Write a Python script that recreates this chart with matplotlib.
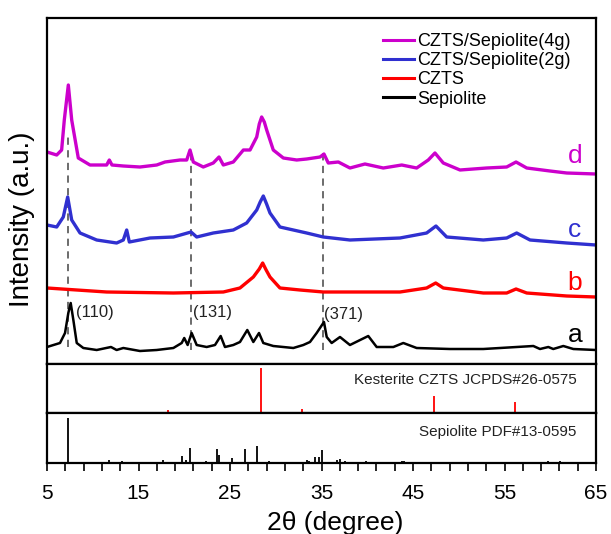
import numpy as np
import matplotlib
matplotlib.use("Agg")
import matplotlib.pyplot as plt

plt.rcParams['font.family'] = ['Liberation Sans', 'DejaVu Sans']

# ---------------- data ----------------
# (a) Sepiolite
a_x = [5.0, 6.42, 6.97, 7.33, 7.59, 7.88, 8.25, 8.97, 10.43, 11.99, 12.61, 13.34, 15.16, 16.99,
       18.81, 19.72, 20.0, 20.37, 20.81, 21.36, 22.45, 23.36, 23.98, 24.45, 25.36, 26.09, 26.89,
       27.55, 28.17, 28.64, 29.73, 31.92, 33.01, 33.74, 34.47, 35.27, 35.57, 36.11, 37.02, 38.11,
       40.11, 41.03, 42.85, 43.94, 45.40, 49.04, 52.68, 54.51, 58.15, 58.88, 59.79, 60.33, 61.43,
       62.52, 65.0]
a_y = [17, 21, 31, 51, 61, 44, 21, 16, 14, 17, 14, 16, 13, 14,
       16, 21, 26, 19, 31, 19, 17, 19, 28, 17, 19, 22, 34,
       22, 31, 21, 18, 16, 19, 22, 31, 42, 27, 21, 27, 19,
       28, 17, 17, 21, 16, 15, 15, 16, 18, 15, 17, 15, 18,
       15, 14]

# (b) CZTS
b_x = [5.0, 11.52, 18.81, 24.27, 26.09, 27.55, 28.2, 28.57, 28.95, 29.37, 30.46, 32.65, 35.2,
       36.29, 43.58, 46.49, 47.48, 48.31, 52.68, 55.24, 56.26, 57.43, 61.80, 65.0]
b_y = [76, 72, 71, 72, 76, 87, 95, 101, 94, 87, 76, 74, 72,
       72, 72, 76, 81, 76, 71, 71, 75, 71, 68, 67]

# (c) CZTS/Sepiolite(2g)
c_x = [5.0, 6.06, 6.78, 7.26, 7.70, 8.61, 10.43, 12.61, 13.34, 13.71, 14.0, 16.26, 18.81, 20.74,
       21.36, 23.17, 25.36, 26.82, 27.92, 28.3, 28.64, 29.0, 29.37, 30.46, 33.38, 35.2, 38.11,
       43.58, 46.49, 47.51, 48.68, 52.68, 55.24, 56.33, 57.79, 61.80, 65.0]
c_y = [139, 137, 147, 167, 144, 131, 124, 121, 124, 134, 122, 126, 127, 132,
       127, 131, 134, 141, 154, 162, 168, 160, 151, 137, 131, 127, 124,
       126, 131, 138, 127, 124, 126, 131, 124, 121, 119]

# (d) CZTS/Sepiolite(4g)
d_x = [5.0, 6.06, 6.6, 6.89, 7.33, 7.70, 8.42, 9.70, 11.52, 11.81, 12.10, 13.34, 15.16, 16.99,
       17.90, 19.54, 20.27, 20.63, 20.99, 22.08, 23.17, 23.80, 24.27, 25.36, 26.46, 27.19, 27.92,
       28.2, 28.46, 28.75, 29.01, 29.73, 30.83, 32.29, 33.38, 34.84, 35.27, 35.74, 36.84, 38.11,
       39.75, 41.75, 43.77, 45.40, 46.67, 47.40, 48.31, 50.14, 53.05, 55.24, 56.26, 57.43, 59.97,
       61.80, 65.0]
d_y = [212, 209, 214, 244, 279, 244, 206, 199, 199, 204, 199, 198, 197, 199,
       202, 204, 204, 214, 202, 197, 201, 207, 199, 202, 214, 214, 227,
       240, 247, 242, 234, 214, 206, 204, 205, 207, 210, 201, 202, 196,
       200, 196, 199, 196, 204, 211, 201, 194, 196, 197, 202, 196, 193,
       191, 190]

# reference dashed lines: position, top, bottom
ref_pos = [7.3, 20.7, 35.2]
ref_top = [227, 215, 215]
ref_bot = [17, 14, 14]
hkl_labels = ['(110)', '(131)', '(371)']
hkl_x = [8.15, 21.0, 35.3]
hkl_y = [52, 52, 49]

# Kesterite CZTS JCPDS#26-0575 sticks
kes_pos = [16.3, 18.2, 23.1, 28.4, 29.6, 32.9, 37.9, 44.9, 47.3, 56.1, 58.9]
kes_int = [2, 7, 2, 100, 2, 9, 2, 2, 38, 24, 3]

# Sepiolite PDF#13-0595 sticks
sep_pos = [7.26, 11.8, 13.2, 17.7, 19.7, 20.2, 20.6, 22.4, 23.6, 23.8, 25.2, 26.6, 28.0, 29.3,
           33.4, 33.6, 34.3, 34.7, 35.1, 36.7, 37.0, 37.6, 39.9, 43.8, 44.0, 59.8, 61.1]
sep_int = [100, 7, 4, 7, 16, 7, 34, 4, 30, 18, 12, 32, 38, 4,
           7, 5, 14, 14, 29, 7, 8, 4, 5, 4, 5, 4, 5]

series = [
    ('CZTS/Sepiolite(4g)', d_x, d_y, '#cc00cc', 'd', 208),
    ('CZTS/Sepiolite(2g)', c_x, c_y, '#3030d0', 'c', 134),
    ('CZTS', b_x, b_y, '#ff0000', 'b', 81),
    ('Sepiolite', a_x, a_y, '#000000', 'a', 29),
]

# ---------------- figure ----------------
W, H = 611, 534
fig = plt.figure(figsize=(W / 100, H / 100), dpi=100)

L, R = 47, 596
def ax_rect(top, bottom):
    return [L / W, 1 - bottom / H, (R - L) / W, (bottom - top) / H]

ax1 = fig.add_axes(ax_rect(18, 364))
ax2 = fig.add_axes(ax_rect(364, 413))
ax3 = fig.add_axes(ax_rect(413, 463))

for ax in (ax1, ax2, ax3):
    ax.set_xlim(5, 65)
    for s in ax.spines.values():
        s.set_linewidth(1.6)
    ax.set_yticks([])
    ax.tick_params(axis='x', which='both', bottom=False, labelbottom=False)

# top panel
ax1.set_ylim(0, 346)
for p, t, b in zip(ref_pos, ref_top, ref_bot):
    ax1.plot([p, p], [b, t], color='#606060', lw=1.3, ls=(0, (4, 3)), zorder=1)
for label, xs, ys, col, letter, ly in series:
    lw = 1.8 if col == '#000000' else 2.4
    ax1.plot(xs, ys, color=col, lw=lw, label=label, zorder=2, solid_joinstyle='round')
    ax1.text(62.7, ly, letter, color=col, fontsize=19, ha='center', va='center')
for lab, hx, hy in zip(hkl_labels, hkl_x, hkl_y):
    ax1.text(hx, hy, lab, fontsize=12, color='#222222', ha='left', va='center')

leg = ax1.legend(loc='upper left', bbox_to_anchor=(383 / W, 1 - 33 / H),
                 bbox_transform=fig.transFigure, frameon=False, fontsize=13,
                 handlelength=1.7, handletextpad=0.2, labelspacing=0.12,
                 borderpad=0, borderaxespad=0)
for h in leg.get_lines():
    h.set_linewidth(2.2)

# middle panel: kesterite sticks
ax2.set_ylim(0, 109)
ax2.vlines(kes_pos, 0, kes_int, color='#ff0000', lw=1.3)
ax2.text(0.965, 0.68, 'Kesterite CZTS JCPDS#26-0575', transform=ax2.transAxes,
         ha='right', va='center', fontsize=11, color='#222222')

# bottom panel: sepiolite sticks
ax3.set_ylim(0, 111)
ax3.vlines(sep_pos, 0, sep_int, color='#000000', lw=1.3)
ax3.text(0.965, 0.62, 'Sepiolite PDF#13-0595', transform=ax3.transAxes,
         ha='right', va='center', fontsize=11, color='#222222')

ticks = np.arange(5, 66, 2)
ax3.set_xticks(ticks)
ax3.set_xticklabels([str(t) if (t - 5) % 10 == 0 else '' for t in ticks])
ax3.tick_params(axis='x', which='both', bottom=True, labelbottom=True, direction='out',
                length=6, width=1.2, labelsize=15, pad=9)

fig.text(335 / W, 1 - 523 / H, '2θ (degree)', ha='center', va='center', fontsize=19)
fig.text(22 / W, 1 - 219 / H, 'Intensity (a.u.)', ha='center', va='center',
         rotation=90, fontsize=20)

fig.savefig('out.png', dpi=100)
